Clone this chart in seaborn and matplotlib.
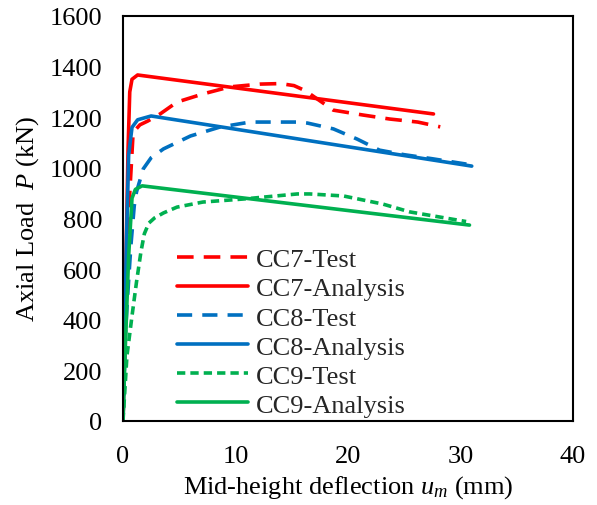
import matplotlib
matplotlib.use("Agg")
import matplotlib.pyplot as plt
import seaborn as sns
import pandas as pd

cc7_test_x = [0, 0.3, 0.6, 0.9, 1.5, 2.2, 3.3, 4.8, 7.1, 9.5, 12.2, 14.0, 15.2, 16.2, 17.5, 18.7, 21.3, 23.7, 26.2, 28.2]
cc7_test_y = [0, 500, 900, 1140, 1170, 1185, 1213, 1260, 1292, 1320, 1331, 1333, 1325, 1305, 1265, 1228, 1209, 1193, 1181, 1162]
cc7_ana_x = [0, 0.45, 0.6, 0.8, 1.3, 27.6]
cc7_ana_y = [0, 1075, 1300, 1350, 1367, 1213]
cc8_test_x = [0, 0.2, 0.45, 0.7, 1.0, 1.2, 1.8, 2.5, 3.6, 6.0, 8.6, 11.3, 15.5, 16.4, 18.7, 20.8, 22.8, 25.0, 27.5, 30.8]
cc8_test_y = [0, 335, 520, 692, 850, 905, 996, 1040, 1075, 1126, 1161, 1181, 1181, 1177, 1154, 1114, 1070, 1052, 1036, 1013]
cc8_ana_x = [0, 0.3, 0.5, 0.8, 1.3, 2.5, 31.0]
cc8_ana_y = [0, 700, 1050, 1160, 1190, 1205, 1007]
cc9_test_x = [0, 0.35, 0.8, 1.2, 1.6, 1.9, 2.3, 2.8, 3.6, 4.8, 7.1, 10.7, 15.5, 16.6, 19.6, 23.1, 25.5, 27.6, 30.5]
cc9_test_y = [0, 257, 415, 549, 670, 740, 782, 802, 822, 845, 865, 877, 897, 897, 889, 857, 826, 810, 788]
cc9_ana_x = [0, 0.2, 0.5, 0.8, 1.1, 1.7, 30.8]
cc9_ana_y = [0, 285, 650, 880, 915, 929, 774]

labels = ["CC7-Test", "CC7-Analysis", "CC8-Test", "CC8-Analysis", "CC9-Test", "CC9-Analysis"]
x_ticks = [0, 10, 20, 30, 40]
y_ticks = [0, 200, 400, 600, 800, 1000, 1200, 1400, 1600]

sns.set_theme(style="white")
plt.rcParams["font.family"] = ["Liberation Serif", "DejaVu Serif"]
plt.rcParams["mathtext.fontset"] = "custom"
plt.rcParams["mathtext.rm"] = "Liberation Serif"
plt.rcParams["mathtext.it"] = "Liberation Serif:italic"

fig = plt.figure(figsize=(5.97, 5.06), dpi=100)
ax = fig.add_axes([123/597, 1 - 422/506, 450/597, 405/506])

red, blue, green = "#FF0000", "#0070C0", "#00B050"
lw = 2.6
series = [
    (cc7_test_x, cc7_test_y, red, (0, (4.6, 2.8))),
    (cc7_ana_x, cc7_ana_y, red, "-"),
    (cc8_test_x, cc8_test_y, blue, (0, (4.2, 2.8))),
    (cc8_ana_x, cc8_ana_y, blue, "-"),
    (cc9_test_x, cc9_test_y, green, (0, (2.3, 1.4))),
    (cc9_ana_x, cc9_ana_y, green, "-"),
]
for (xs, ys, c, ls), lab in zip(series, labels):
    df = pd.DataFrame({"x": xs, "y": ys})
    sns.lineplot(data=df, x="x", y="y", ax=ax, color=c, linestyle=ls,
                 linewidth=lw, label=lab, sort=False, estimator=None)

ax.set_xlim(0, 40)
ax.set_ylim(0, 1600)
ax.set_xticks(x_ticks)
ax.set_yticks(y_ticks)
ax.tick_params(axis="both", direction="in", length=5, width=1.3, labelsize=19,
               color="black", labelcolor="black")
ax.tick_params(axis="x", pad=17)
ax.tick_params(axis="y", pad=15)
for s in ax.spines.values():
    s.set_color("black")
    s.set_linewidth(1.5)
ax.set_xlabel("Mid-height deflection $u_m$ (mm)", fontsize=19, color="black", labelpad=5)
ax.set_ylabel("Axial Load  $P$ (kN)", fontsize=19, color="black", labelpad=6)

leg = ax.legend(loc="upper left", bbox_to_anchor=(177/597, 1 - 249/506),
                bbox_transform=fig.transFigure, frameon=False, fontsize=19,
                handlelength=2.7, handletextpad=0.3, labelspacing=0.21, borderpad=0,
                borderaxespad=0)

fig.savefig("out.png", dpi=100)
